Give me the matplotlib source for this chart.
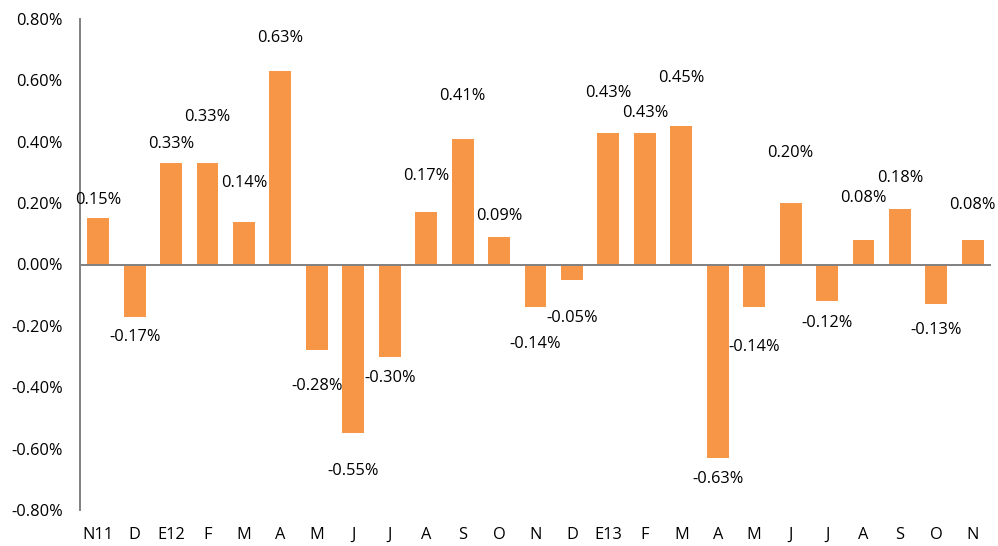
import matplotlib.pyplot as plt
import numpy as np

months = ['N11', 'D', 'E12', 'F', 'M', 'A', 'M', 'J', 'J', 'A', 'S', 'O', 'N',
          'D', 'E13', 'F', 'M', 'A', 'M', 'J', 'J', 'A', 'S', 'O', 'N']
values = [0.15, -0.17, 0.33, 0.33, 0.14, 0.63, -0.28, -0.55, -0.30, 0.17, 0.41, 0.09, -0.14,
          -0.05, 0.43, 0.43, 0.45, -0.63, -0.14, 0.20, -0.12, 0.08, 0.18, -0.13, 0.08]
yticks = [-0.8, -0.6, -0.4, -0.2, 0.0, 0.2, 0.4, 0.6, 0.8]

# label offsets from the bar end (placed by hand in the original)
label_offset = [0.06, -0.066, 0.063, 0.151, 0.126, 0.108, -0.116, -0.123, -0.07, 0.12,
                0.139, 0.068, -0.12, -0.124, 0.129, 0.064, 0.158, -0.07, -0.128, 0.163,
                -0.07, 0.137, 0.102, -0.083, 0.114]

plt.rcParams['font.family'] = ['Open Sans', 'DejaVu Sans']

fig = plt.figure(figsize=(9.98, 5.46), dpi=100)
ax = fig.add_axes([80/998, 1 - 510/546, (991 - 80)/998, (510 - 19)/546])

x = np.arange(len(months))
ax.bar(x, values, width=0.6, color='#F79646', zorder=2)
ax.axhline(0, color='#808080', linewidth=1.4, zorder=3)

for xi, v, off in zip(x, values, label_offset):
    ax.text(xi, v + off, f'{v:.2f}%', ha='center', va='center', fontsize=11.8, color='black')

ax.set_xlim(-0.5, len(months) - 0.5)
ax.set_ylim(-0.8, 0.8)
ax.set_yticks(yticks)
ax.set_yticklabels([f'{t:.2f}%' for t in yticks])
ax.set_xticks(x)
ax.set_xticklabels(months)
ax.tick_params(axis='y', length=0, pad=12.5, labelsize=11.8)
ax.tick_params(axis='x', length=0, pad=12, labelsize=11.8)

for s in ['top', 'right', 'bottom']:
    ax.spines[s].set_visible(False)
ax.spines['left'].set_color('#808080')
ax.spines['left'].set_linewidth(1.4)

fig.savefig('out.png', dpi=100)
